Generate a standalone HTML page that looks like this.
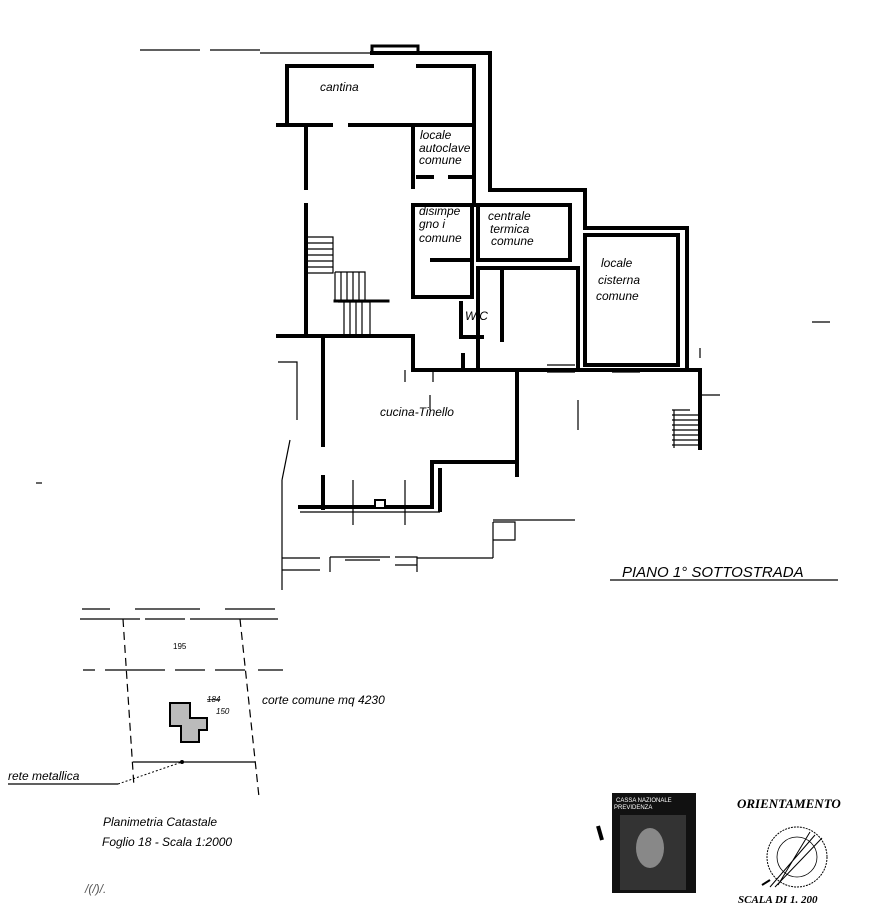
<!DOCTYPE html>
<html><head><meta charset="utf-8"><style>
html,body{margin:0;padding:0;background:#fff}
svg{display:block}
.w{fill:none;stroke:#000;stroke-width:4;stroke-linecap:square}
.t{fill:none;stroke:#000;stroke-width:1.2}
.d{fill:none;stroke:#000;stroke-width:1.2;stroke-dasharray:8 5}
.h{font-family:"Liberation Sans",sans-serif;font-style:italic;font-size:12px}
</style></head><body>
<svg width="874" height="908" viewBox="0 0 874 908" xmlns="http://www.w3.org/2000/svg">
<!-- top context line -->
<path class="t" d="M140 50H200M210 50H260M260 53H372"/>
<path d="M372 53V46H418V53" class="w" style="stroke-width:3"/>
<!-- outer walls upper -->
<path class="w" d="M372 53H490V190H585V228H687V368"/>
<path class="w" d="M287 121V66H372M418 66H474V205"/>
<path class="w" d="M278 125H331M350 125H474"/>
<path class="w" d="M306 125V188M306 205V336"/>
<path class="w" d="M413 125V187M413 205V297H472V205H413"/>
<path class="w" d="M418 177H432M450 177H474"/>
<!-- centrale termica -->
<path class="w" d="M478 205H570V260H478Z"/>
<path class="w" d="M432 260H472"/>
<!-- wc / room -->
<path class="w" d="M478 268V368M478 268H578V368"/>
<path class="w" d="M502 270V340"/>
<path class="w" d="M461 303V337H482"/>
<path class="w" d="M463 355V370"/>
<!-- cisterna -->
<path class="w" d="M585 235H678V365H585Z"/>
<!-- lower -->
<path class="w" d="M278 336H413V370"/>
<path class="w" d="M323 340V445M323 477V508"/>
<path class="w" d="M413 370H517V475M517 370H700V448"/>
<path class="w" d="M300 507H432V462H517"/>
<path class="w" d="M440 510V470"/>
<rect x="375" y="500" width="10" height="8" fill="#fff" stroke="#000" stroke-width="2"/>
<!-- windows -->
<path class="t" d="M547 365H575M547 372H575M612 365H640M612 372H640"/>
<!-- stairs -->
<path class="t" d="M308 237H333V273H308M308 243H333M308 249H333M308 255H333M308 261H333M308 267H333"/>
<path class="t" d="M335 272H365V300M335 272V300M341 272V300M347 272V300M353 272V300M359 272V300"/>
<path class="w" d="M335 301H388" style="stroke-width:3"/>
<path class="t" d="M338 302H370V335M344 302V335M350 302V335M356 302V335M362 302V335"/>
<path class="t" d="M672 410H690M672 415H700M672 420H700M672 425H700M672 430H700M672 435H700M672 440H700M672 445H700M674 410V448"/>
<!-- dimension/thin lines -->
<path class="t" d="M278 362H297V420M290 440L282 480M282 480V590M300 512H440M353 480V525M405 480V525M405 370V382M433 370V382M578 400V430M430 395V410M493 520H575M493 522V558M493 522H515V540H493M417 558H493M282 558H320M282 558V580M330 557V572M330 557H390M395 557H417V572M282 570H320M345 560H380M395 565H417"/>
<path class="t" d="M700 348V358M700 395H720M812 322H830"/>
<path class="t" d="M36 483H42"/>
<!-- labels -->
<text x="320" y="91" class="h" font-size="13">cantina</text>
<text x="420" y="139" class="h" font-size="12">locale</text>
<text x="419" y="152" class="h" font-size="12">autoclave</text>
<text x="419" y="164" class="h" font-size="12">comune</text>
<text x="419" y="215" class="h" font-size="12">disimpe</text>
<text x="419" y="228" class="h" font-size="12">gno i</text>
<text x="419" y="242" class="h" font-size="12">comune</text>
<text x="488" y="220" class="h" font-size="12">centrale</text>
<text x="490" y="233" class="h" font-size="12">termica</text>
<text x="491" y="245" class="h" font-size="12">comune</text>
<text x="601" y="267" class="h" font-size="13">locale</text>
<text x="598" y="284" class="h" font-size="12">cisterna</text>
<text x="596" y="300" class="h" font-size="12">comune</text>
<text x="465" y="320" class="h" font-size="11">W.C</text>
<text x="380" y="416" class="h" font-size="13">cucina-Tinello</text>
<text x="622" y="577" font-family="Liberation Sans,sans-serif" font-style="italic" font-size="15">PIANO 1° SOTTOSTRADA</text>
<path class="t" d="M610 580H838"/>
<!-- cadastral -->
<path class="t" d="M82 609H110M135 609H200M225 609H275M80 619H140M145 619H185M190 619H278M83 670H95M105 670H165M175 670H205M215 670H245M258 670H283"/>
<path class="d" d="M123 619L134 787M240 619L259 797"/>
<path class="t" d="M133 762H255"/>
<path d="M170 703H190V718H207V730H199V742H181V726H170Z" fill="#bbb" stroke="#000" stroke-width="2"/>
<text x="173" y="649" font-family="Liberation Sans,sans-serif" font-size="8">195</text>
<text x="207" y="702" font-family="Liberation Sans,sans-serif" font-style="italic" font-size="8" text-decoration="line-through">184</text>
<text x="216" y="714" font-family="Liberation Sans,sans-serif" font-style="italic" font-size="8">150</text>
<text x="262" y="704" class="h" font-size="10">corte comune mq 4230</text>
<text x="8" y="780" class="h" font-size="10">rete metallica</text>
<path class="t" d="M8 784H118"/>
<path d="M118 784L182 762" fill="none" stroke="#000" stroke-dasharray="2 2"/>
<circle cx="182" cy="762" r="2"/>
<text x="103" y="826" class="h" font-size="12">Planimetria Catastale</text>
<text x="102" y="846" class="h" font-size="12">Foglio 18 - Scala 1:2000</text>
<text x="85" y="893" class="h" font-size="18" fill="#555">&#x2F;(&#x2F;)&#x2F;.</text>
<!-- logo -->
<rect x="612" y="793" width="84" height="100" fill="#111"/>
<rect x="620" y="815" width="66" height="75" fill="#333"/>
<ellipse cx="650" cy="848" rx="14" ry="20" fill="#888"/>
<text x="616" y="802" font-family="Liberation Sans,sans-serif" font-size="6" fill="#fff">CASSA NAZIONALE</text>
<text x="614" y="809" font-family="Liberation Sans,sans-serif" font-size="6" fill="#fff">PREVIDENZA</text>
<path d="M598 826L602 840" stroke="#000" stroke-width="4"/>
<text x="737" y="808" font-family="Liberation Serif,serif" font-weight="bold" font-style="italic" font-size="13">ORIENTAMENTO</text>
<circle cx="797" cy="857" r="30" fill="none" stroke="#000" stroke-dasharray="2 1"/>
<circle cx="797" cy="857" r="20" fill="none" stroke="#000" stroke-width="0.8"/>
<path d="M770 887L815 835M775 887L822 838M778 885L810 832" stroke="#000" stroke-width="1"/>
<path d="M762 885L770 880" stroke="#000" stroke-width="2"/>
<text x="738" y="903" font-family="Liberation Serif,serif" font-weight="bold" font-style="italic" font-size="11">SCALA DI 1. 200</text>
</svg>
</body></html>
